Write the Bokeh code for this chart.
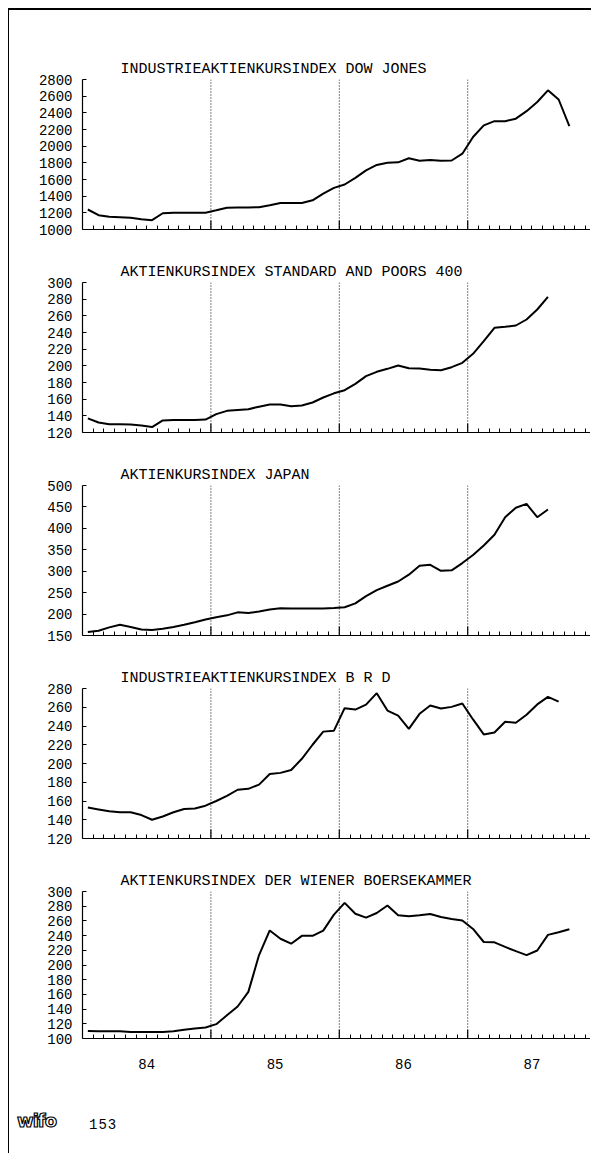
from bokeh.plotting import figure
from bokeh.models import Range1d, FixedTicker, LinearAxis, Span, Div
from bokeh.layouts import column
from bokeh.embed import file_html
from bokeh.resources import INLINE

# ---------------- data ----------------
# monthly observations, first value = January 1984
months = [f"{y}-{m:02d}" for y in (1984, 1985, 1986, 1987) for m in range(1, 13)]
year_labels = ["84", "85", "86", "87"]

dow_jones = [1240, 1172, 1152, 1148, 1140, 1124, 1112, 1195, 1200, 1200, 1200, 1200,
             1230, 1262, 1264, 1264, 1268, 1290, 1318, 1318, 1318, 1350, 1430, 1500,
             1540, 1620, 1710, 1775, 1800, 1806, 1855, 1826, 1835, 1826, 1828, 1910,
             2110, 2250, 2300, 2300, 2330, 2420, 2530, 2670, 2560, 2240]

sp400 = [137, 132, 130, 130, 129.5, 128.5, 126.5, 134.5, 135, 135, 135, 135.5,
         142, 146, 147, 148, 151, 153.5, 153.5, 151.5, 152.5, 156, 162, 167,
         170.8, 178.4, 187.6, 192.8, 196.4, 200.4, 197.2, 196.8, 195.2, 194.8, 198.4, 203.6,
         214.4, 229.6, 245.6, 246.8, 248.4, 255.6, 267.6, 282.8]

japan = [158, 161, 169, 175, 170, 164, 163, 165.5, 170, 175, 181, 187.5,
         192.5, 197, 204, 202.5, 206, 210.5, 213.5, 213, 213, 213, 213, 214,
         216, 225, 242, 256, 266, 276, 292, 313, 315, 301, 302, 319,
         338, 360, 385, 426, 448, 457, 426, 444]

brd = [153, 151, 149, 148, 148, 145, 140, 143.5, 148, 151.5, 152, 155,
       160, 165.5, 172, 173, 177.5, 188.8, 190, 193, 205, 220, 234, 235,
       259, 257.5, 262.8, 275, 256.5, 251, 237, 253, 261.8, 258.7, 260.4, 264,
       247, 231, 233, 244.6, 243.5, 252, 263, 271, 266]

wien = [110.2, 110, 110, 109.8, 109, 109, 109, 109, 109.8, 112, 113.7, 115,
        119.5, 131.5, 143.5, 163.4, 213.5, 247, 235.7, 229, 239.7, 239.7, 246.8, 268.5,
        284.5, 269.8, 264.5, 270.7, 281, 267.6, 266.3, 267.6, 269.4, 265.4, 262.7, 260.5,
        249, 231.3, 230.8, 224.6, 218.8, 213.5, 219.7, 241, 244.6, 248.6]

dow_ticks = [1000, 1200, 1400, 1600, 1800, 2000, 2200, 2400, 2600, 2800]
sp_ticks = [120, 140, 160, 180, 200, 220, 240, 260, 280, 300]
japan_ticks = [150, 200, 250, 300, 350, 400, 450, 500]
brd_ticks = [120, 140, 160, 180, 200, 220, 240, 260, 280]
wien_ticks = [100, 120, 140, 160, 180, 200, 220, 240, 260, 280, 300]

titles = ["INDUSTRIEAKTIENKURSINDEX DOW JONES",
          "AKTIENKURSINDEX STANDARD AND POORS 400",
          "AKTIENKURSINDEX JAPAN",
          "INDUSTRIEAKTIENKURSINDEX B R D",
          "AKTIENKURSINDEX DER WIENER BOERSEKAMMER"]

footer_logo = "wifo"
footer_page = "153"

# ---------------- layout constants ----------------
W = 581
LEFT = 73
FRAME_H = 150
XMAX = (W - LEFT) / 10.7
FONT = "Liberation Mono"

year_starts = [12 * i for i in range(1, len(year_labels))]
year_mid = [12 * i + 6 for i in range(len(year_labels))]
month_ticks = [m for m in range(1, len(months)) if m not in year_starts]


def panel(title, vals, ticks, top, bottom, show_years=False):
    p = figure(width=W, height=top + FRAME_H + bottom, output_backend="svg",
               toolbar_location=None, x_range=Range1d(0, XMAX),
               y_range=Range1d(ticks[0], ticks[-1]),
               min_border_left=LEFT, min_border_right=0,
               min_border_top=top, min_border_bottom=bottom,
               x_axis_type=None, y_axis_type=None, title=title)
    p.outline_line_color = None
    p.title.align = "left"
    p.title.offset = 38
    p.title.standoff = 3
    p.title.text_font = FONT
    p.title.text_font_size = "15px"
    p.title.text_font_style = "normal"
    p.title.text_color = "black"

    yax = LinearAxis(ticker=FixedTicker(ticks=ticks, minor_ticks=[]))
    yax.axis_line_color = "black"
    yax.axis_line_width = 1.2
    yax.major_tick_in = 4
    yax.major_tick_out = 0
    yax.major_tick_line_color = "black"
    yax.major_label_standoff = 10
    yax.major_label_text_font = FONT
    yax.major_label_text_font_size = "14px"
    yax.major_label_text_color = "black"
    p.add_layout(yax, "left")

    # month ticks (minor only, no labels)
    xax = LinearAxis(ticker=FixedTicker(ticks=[], minor_ticks=month_ticks))
    xax.axis_line_color = "black"
    xax.axis_line_width = 1.2
    xax.minor_tick_in = 4
    xax.minor_tick_out = 0
    xax.minor_tick_line_color = "black"
    xax.major_label_standoff = 0
    p.add_layout(xax, "below")

    if show_years:
        lab = LinearAxis(ticker=FixedTicker(ticks=year_mid, minor_ticks=[]),
                         major_label_overrides={m: t for m, t in zip(year_mid, year_labels)})
        lab.axis_line_color = None
        lab.major_tick_line_color = None
        lab.major_label_standoff = 14
        lab.major_label_text_font = FONT
        lab.major_label_text_font_size = "14px"
        lab.major_label_text_color = "black"
        p.add_layout(lab, "below")

    # taller solid year-boundary ticks and dotted year separators
    span_y = ticks[-1] - ticks[0]
    p.segment(x0=year_starts, y0=[ticks[0]] * len(year_starts),
              x1=year_starts, y1=[ticks[0] + span_y * 9 / FRAME_H] * len(year_starts),
              line_color="black", line_width=1.2)
    for b in year_starts:
        p.add_layout(Span(location=b, dimension="height", line_color="black",
                          line_width=1, line_dash="1 2"))

    x = [i + 0.5 for i in range(len(vals))]
    p.line(x, vals, line_color="black", line_width=2)
    return p


p1 = panel(titles[0], dow_jones, dow_ticks, 69, 13)
p2 = panel(titles[1], sp400, sp_ticks, 40, 13)
p3 = panel(titles[2], japan, japan_ticks, 40, 13)
p4 = panel(titles[3], brd, brd_ticks, 40, 13)
p5 = panel(titles[4], wien, wien_ticks, 40, 30, show_years=True)

FH = 72
foot = Div(width=W, height=FH,
           text=('<div style="position:relative;width:%dpx;height:%dpx;">'
                 '<span style="position:absolute;left:3px;top:32px;'
                 'font-family:\'DejaVu Sans\';font-weight:bold;font-size:18px;'
                 'color:white;-webkit-text-stroke:1.2px black;letter-spacing:-1px;">%s</span>'
                 '<span style="position:absolute;left:75px;top:39px;'
                 'font-family:\'Liberation Mono\';font-size:14px;letter-spacing:1px;'
                 'color:black;">%s</span></div>') % (W, FH, footer_logo, footer_page))

layout = column(p1, p2, p3, p4, p5, foot,
                styles={"border-left": "1.5px solid black",
                        "border-top": "2px solid black",
                        "margin-left": "8px", "margin-top": "8px"})

open("out.html", "w").write(file_html(layout, INLINE))
